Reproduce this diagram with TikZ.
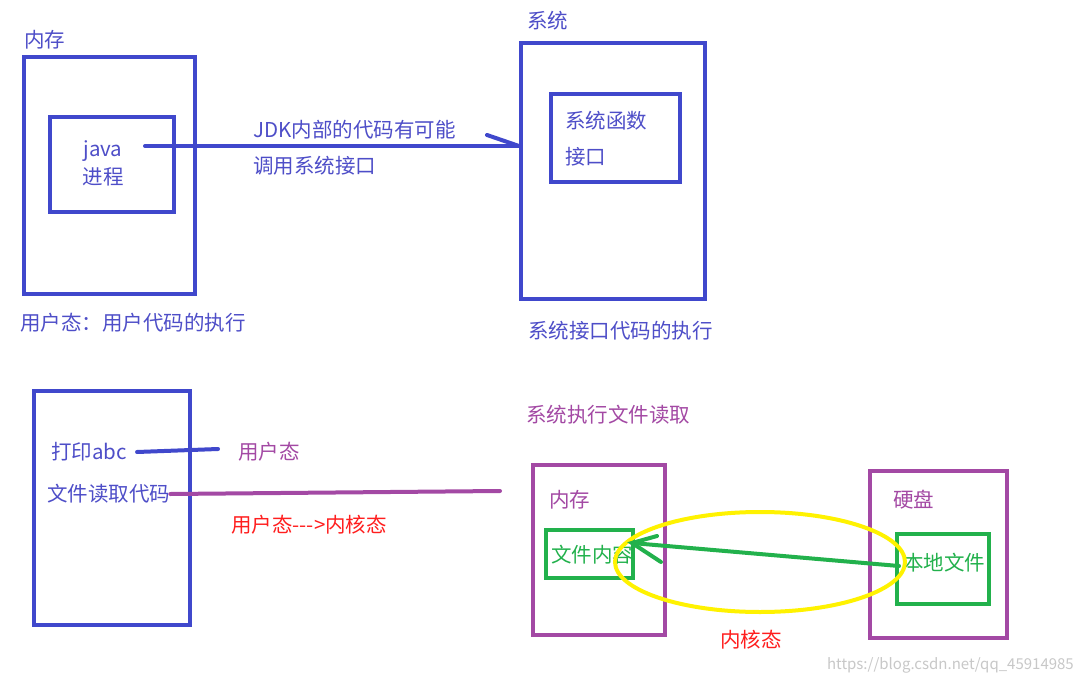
\documentclass[tikz,border=0pt]{standalone}
\usepackage{fontspec}
\setmainfont{Noto Sans CJK SC}
\usetikzlibrary{shapes.geometric}
\definecolor{bl}{RGB}{64,72,204}
\definecolor{blt}{RGB}{78,78,200}
\definecolor{pu}{RGB}{163,73,164}
\definecolor{gr}{RGB}{34,177,76}
\definecolor{ye}{RGB}{255,242,0}
\definecolor{rd}{RGB}{255,30,30}
\definecolor{wm}{RGB}{200,200,200}
\begin{document}
\begin{tikzpicture}[x=1pt,y=-1pt,
  box/.style={draw=#1,line width=4pt,rectangle,inner sep=0pt,anchor=north west},
  lbl/.style={anchor=west,inner sep=0pt,text=#1,font=\fontsize{20.5}{24}\selectfont},
  clbl/.style={inner sep=0pt,text=#1,font=\fontsize{20.5}{24}\selectfont},
  conn/.style={draw=#1,line width=4pt,line cap=round}]
\useasboundingbox[fill=white] (0,0) rectangle (1082,682);

% top-left
\node[box=bl,minimum width=171pt,minimum height=237pt] (mem) at (22,55) {};
\node[lbl=blt] (memlbl) at (24,40) {内存};
\node[box=bl,minimum width=124pt,minimum height=95pt] (java) at (48,115) {};
\node[clbl=blt] (javat) at (103,151) {java};
\node[clbl=blt] (javap) at (103,177) {进程};
\node[lbl=blt] (user) at (20,323) {用户态：用户代码的执行};

% top-right
\node[box=bl,minimum width=184pt,minimum height=256pt] (sys) at (519,41) {};
\node[lbl=blt] (syslbl) at (527,21) {系统};
\node[box=bl,minimum width=129pt,minimum height=88pt] (sysf) at (549,92) {};
\node[lbl=blt] (sysf1) at (565,121) {系统函数};
\node[lbl=blt] (sysf2) at (565,157) {接口};
\node[lbl=blt] (sysexec) at (528,331) {系统接口代码的执行};

\node[lbl=blt] (jdk1) at (253,130) {JDK内部的代码有可能};
\node[lbl=blt] (jdk2) at (253,166) {调用系统接口};
\coordinate (jstart) at (145,146);
\coordinate (jend) at (jstart -| sys.west);
\coordinate (jbarb) at (487,135);
\draw[conn=bl] (jstart) -- (jend);
\draw[conn=bl] (jbarb) -- (jend);

% bottom-left
\node[box=bl,minimum width=156pt,minimum height=234pt] (prog) at (32,389) {};
\node[lbl=blt] (print) at (51,452) {打印abc};
\node[lbl=blt] (fread) at (47,494) {文件读取代码};
\node[lbl=pu] (ustate) at (238,452) {用户态};
\node[lbl=rd] (u2k) at (231,525) {用户态{-}{-}{-}>内核态};
\coordinate (pend) at (218,449);
\coordinate (fend) at (500,491);
\draw[conn=bl] (print.east) ++(10,0) coordinate (pstart) -- (pend);
\draw[conn=pu] (fread.east) -- (fend);

% bottom-right
\node[lbl=pu] (sysread) at (526,415) {系统执行文件读取};
\node[box=pu,minimum width=132pt,minimum height=170pt] (mem2) at (531,463) {};
\node[lbl=pu] (mem2lbl) at (549,500) {内存};
\node[box=gr,minimum width=87pt,minimum height=48pt] (fc) at (544,528) {};
\node[lbl=gr] (fctext) at (551,555) {文件内容};
\node[box=pu,minimum width=137pt,minimum height=167pt] (disk) at (868,469) {};
\node[lbl=pu] (disklbl) at (893,500) {硬盘};
\node[box=gr,minimum width=92pt,minimum height=70pt] (lf) at (895,532) {};
\node[lbl=gr] (lftext) at (903,563) {本地文件};
\node[ellipse,draw=ye,line width=4pt,minimum width=290pt,minimum height=100pt,inner sep=0pt] (kern) at (760,562) {};
\node[lbl=rd] (kernlbl) at (720,640) {内核态};
\coordinate (gtail) at (899,566);
\coordinate (ghead) at (632,543);
\coordinate (gb1) at (657,536);
\coordinate (gb2) at (661,562);
\draw[conn=gr] (gtail) -- (ghead);
\draw[conn=gr] (gb1) -- (ghead) -- (gb2);

\node[anchor=east,inner sep=0pt,text=wm,font=\fontsize{15}{18}\selectfont] (wmark) at (1074,665) {https://blog.csdn.net/qq\_45914985};
\end{tikzpicture}
\end{document}
